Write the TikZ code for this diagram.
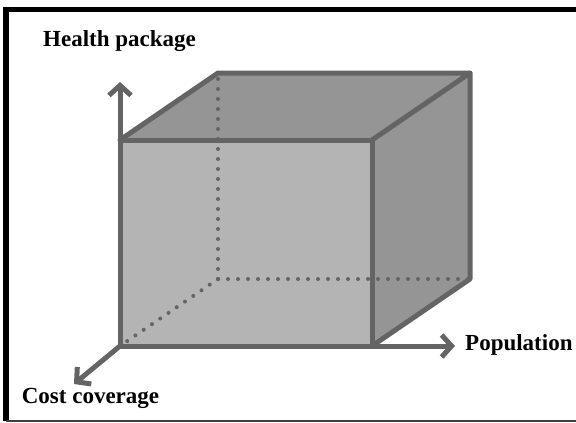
\documentclass[tikz,border=0pt]{standalone}
\usepackage{fontspec}
\setmainfont{Liberation Serif}
\usetikzlibrary{math,calc,arrows.meta}
\definecolor{facefront}{HTML}{B4B4B4}
\definecolor{faceside}{HTML}{959595}
\definecolor{edgegray}{HTML}{646464}
\begin{document}
\begin{tikzpicture}[x=1pt, y=-1pt,
  edge/.style={draw=edgegray, line width=5pt, line join=round, line cap=round},
  hidden/.style={draw=edgegray, line width=4pt, dash pattern=on 0pt off 10pt, line cap=round},
  axis/.style={draw=edgegray, line width=5pt, -{Straight Barb[length=10pt, width=22pt, line width=5pt]}},
  lab/.style={font=\bfseries\fontsize{23}{26}\selectfont, text=black, inner sep=0pt}]
  \tikzmath{\dx = 98; \dy = -67;}
  \useasboundingbox (0,0) rectangle (576,423);

  % frame
  \draw[line width=5.5pt] (6,9.5) -- (576,9.5);
  \draw[line width=6pt] (6,7) -- (6,421);
  \draw[line width=2.5pt, black!75] (6,421) -- (576,421);

  % front face corners
  \coordinate (fa) at (120,346);
  \coordinate (fb) at (372,346);
  \coordinate (fc) at (372,140);
  \coordinate (fd) at (120,140);
  % back face corners
  \coordinate (ba) at ($(fa)+(\dx,\dy)$);
  \coordinate (bb) at ($(fb)+(\dx,\dy)$);
  \coordinate (bc) at ($(fc)+(\dx,\dy)$);
  \coordinate (bd) at ($(fd)+(\dx,\dy)$);

  \fill[faceside] (fd) -- (fc) -- (bc) -- (bd) -- cycle;
  \fill[faceside] (fb) -- (bb) -- (bc) -- (fc) -- cycle;
  \fill[facefront] (fa) rectangle (fc);

  % hidden edges
  \draw[hidden] (ba) -- (bd);
  \draw[hidden] (ba) -- (bb);
  \draw[hidden] (ba) -- (fa);

  % axes
  \coordinate (tiphp) at (120,82);
  \coordinate (tippop) at (455,346);
  \coordinate (tipcost) at (74,384);
  \draw[axis] (fd) -- (tiphp);
  \draw[axis] (fb) -- (tippop);
  \draw[axis] (fa) -- (tipcost);

  % visible edges
  \draw[edge] (fa) rectangle (fc);
  \draw[edge] (fd) -- (bd) -- (bc) -- (fc);
  \draw[edge] (bc) -- (bb) -- (fb);

  \node[lab] (hp) at (119.5,41) {Health package};
  \node[lab, anchor=west] (pop) at (465,345) {Population};
  \node[lab] (cost) at (90.5,398) {Cost coverage};
\end{tikzpicture}
\end{document}
